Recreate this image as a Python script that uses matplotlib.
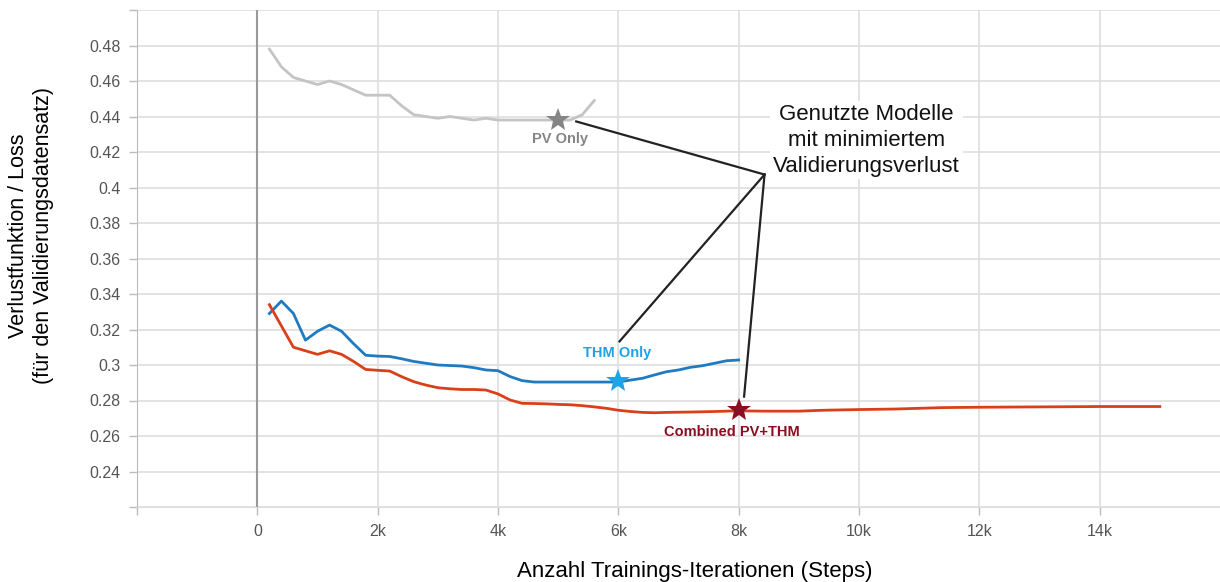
import matplotlib
matplotlib.use('Agg')
import matplotlib.pyplot as plt
from matplotlib.ticker import FuncFormatter

plt.rcParams['font.family'] = ['Liberation Sans', 'DejaVu Sans']

# PV Only (grau)
pv_steps = [200, 400, 600, 800, 1000, 1200, 1400, 1600, 1800, 2000, 2200, 2400, 2600, 2800,
            3000, 3200, 3400, 3600, 3800, 4000, 4200, 4400, 4600, 4800, 5000, 5200, 5400, 5600]
pv_loss = [0.478, 0.468, 0.462, 0.460, 0.458, 0.460, 0.458, 0.455, 0.452, 0.452, 0.452, 0.446,
           0.441, 0.440, 0.439, 0.440, 0.439, 0.438, 0.439, 0.438, 0.438, 0.438, 0.438, 0.438,
           0.438, 0.438, 0.441, 0.449]

# THM Only (blau)
thm_steps = [200, 400, 600, 800, 1000, 1200, 1400, 1600, 1800, 2000, 2200, 2400, 2600, 2800,
             3000, 3200, 3400, 3600, 3800, 4000, 4200, 4400, 4600, 4800, 5000, 5200, 5400, 5600,
             5800, 6000, 6200, 6400, 6600, 6800, 7000, 7200, 7400, 7600, 7800, 8000]
thm_loss = [0.329, 0.336, 0.329, 0.314, 0.319, 0.3225, 0.319, 0.312, 0.3055, 0.305, 0.3048,
            0.3035, 0.302, 0.301, 0.300, 0.2997, 0.2994, 0.2985, 0.2972, 0.2968, 0.2935, 0.2912,
            0.2904, 0.2904, 0.2904, 0.2904, 0.2904, 0.2904, 0.2904, 0.2904, 0.2915, 0.2925,
            0.2944, 0.2962, 0.2972, 0.2987, 0.2996, 0.301, 0.3024, 0.3028]

# Combined PV+THM (rot)
comb_steps = [200, 400, 600, 800, 1000, 1200, 1400, 1600, 1800, 2000, 2200, 2400, 2600, 2800,
              3000, 3200, 3400, 3600, 3800, 4000, 4200, 4400, 4600, 4800, 5000, 5200, 5400, 5600,
              5800, 6000, 6200, 6400, 6600, 6800, 7000, 7200, 7600, 8000, 8400, 9000, 9400,
              10000, 10600, 11000, 11400, 12000, 13000, 14000, 15000]
comb_loss = [0.334, 0.322, 0.310, 0.308, 0.306, 0.308, 0.306, 0.302, 0.2975, 0.297, 0.2966,
             0.2934, 0.2906, 0.2887, 0.2872, 0.2866, 0.2862, 0.2862, 0.2859, 0.2837, 0.2803,
             0.2784, 0.2783, 0.2781, 0.2778, 0.2776, 0.2771, 0.2764, 0.2756, 0.2745, 0.2738,
             0.2733, 0.2731, 0.2733, 0.2734, 0.2735, 0.2738, 0.2742, 0.2740, 0.2740, 0.2745,
             0.2749, 0.2752, 0.2756, 0.2760, 0.2762, 0.2764, 0.2766, 0.2766]

# ausgewaehlte Modelle (Minimum Validierungsverlust)
best_names = ['PV Only', 'THM Only', 'Combined PV+THM']
best_steps = [5000, 6000, 8000]
best_loss = [0.438, 0.291, 0.2745]
best_colors = ['#858585', '#1da3e6', '#8a0f22']
label_pos = [(5030, 0.4275), (5980, 0.3065), (7890, 0.2625)]

callout_text = 'Genutzte Modelle\nmit minimiertem\nValidierungsverlust'
callout_apex = (8430, 0.4073)
callout_ends = [(5300, 0.4372), (6020, 0.3133), (8090, 0.2822)]

x_ticks = [-2000, 0, 2000, 4000, 6000, 8000, 10000, 12000, 14000]
y_ticks = [0.22, 0.24, 0.26, 0.28, 0.30, 0.32, 0.34, 0.36, 0.38, 0.40, 0.42, 0.44, 0.46, 0.48, 0.50]

fig = plt.figure(figsize=(12.2, 5.82), dpi=100)
ax = fig.add_axes([137 / 1220, 1 - 507 / 582, 1 - 137 / 1220, (507 - 10) / 582])

ax.plot(pv_steps, pv_loss, color='#c4c4c4', linewidth=2, zorder=3)
ax.plot(thm_steps, thm_loss, color='#1f7bc1', linewidth=2, zorder=3)
ax.plot(comb_steps, comb_loss, color='#d9401a', linewidth=2, zorder=3)

for s, l, c in zip(best_steps, best_loss, best_colors):
    ax.plot(s, l, marker='*', markersize=18, color=c, markeredgewidth=0, zorder=5)
for name, (lx, ly), c in zip(best_names, label_pos, best_colors):
    ax.text(lx, ly, name, color=c, fontsize=10.5, fontweight='bold', ha='center', va='center', zorder=5)

# Verbindungslinien zur Beschriftung
for ex, ey in callout_ends:
    ax.plot([callout_apex[0], ex], [callout_apex[1], ey], color='#222222', linewidth=1.6, zorder=6)
ax.text(10124, 0.4265, callout_text, fontsize=16, ha='center', va='center', linespacing=1.3,
        color='#111111', zorder=7,
        bbox=dict(facecolor='white', edgecolor='none', pad=2))

ax.set_xlim(-2000, 16000)
ax.set_ylim(0.22, 0.50)
ax.set_xticks(x_ticks)
ax.set_yticks(y_ticks)
ax.xaxis.set_major_formatter(FuncFormatter(
    lambda v, p: '' if v < 0 else ('0' if v == 0 else f'{int(v / 1000)}k')))
ax.yaxis.set_major_formatter(FuncFormatter(
    lambda v, p: '' if v < 0.23 or v > 0.49 else f'{v:.2f}'.rstrip('0')))
ax.tick_params(colors='#bbbbbb', labelcolor='#555555', labelsize=11.5, length=6, width=1, pad=6)

ax.grid(True, color='#dedede', linewidth=1.2)
ax.axvline(0, color='#999999', linewidth=1.5, zorder=2)
for side in ['top', 'right']:
    ax.spines[side].set_visible(False)
ax.spines['left'].set_color('#bbbbbb')
ax.spines['bottom'].set_color('#dddddd')
ax.set_axisbelow(True)

# Achsenbeschriftungen
fig.text(31 / 1220, 1 - 236 / 582, 'Verlustfunktion / Loss\n(für den Validierungsdatensatz)',
         fontsize=15.5, rotation=90, ha='center', va='center', linespacing=1.2)
fig.text(695 / 1220, 1 - 572 / 582, 'Anzahl Trainings-Iterationen (Steps)', fontsize=16,
         ha='center', va='center')

fig.savefig('out.png', dpi=100)
